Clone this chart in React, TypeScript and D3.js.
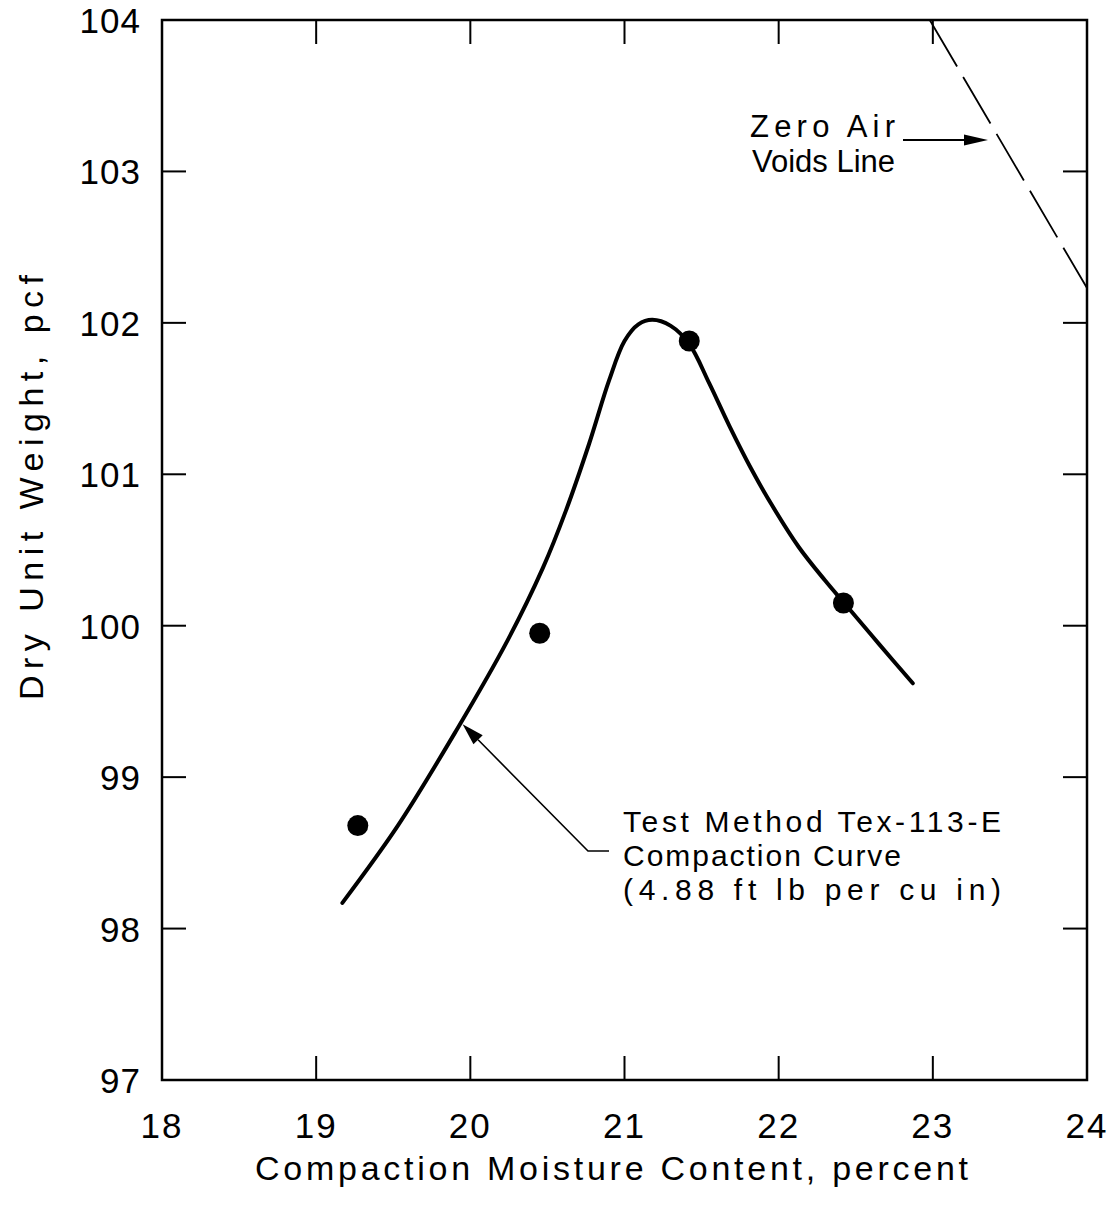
import React from "react";
import * as d3 from "d3";

const xTicks = [18, 19, 20, 21, 22, 23, 24];
const yTicks = [97, 98, 99, 100, 101, 102, 103, 104];
const xTickLabels = ["18", "19", "20", "21", "22", "23", "24"];
const yTickLabels = ["97", "98", "99", "100", "101", "102", "103", "104"];

// Measured test points (moisture %, dry unit weight pcf)
const pointsX = [19.27, 20.45, 21.42, 22.42];
const pointsY = [98.68, 99.95, 101.88, 100.15];

// Hand-drawn compaction curve
const curveX = [19.17, 19.53, 19.91, 20.24, 20.47, 20.62, 20.77, 20.9, 21.0, 21.09, 21.18, 21.3, 21.42, 21.55, 21.68, 21.82, 21.96, 22.13, 22.3, 22.45, 22.65, 22.87];
const curveY = [98.17, 98.68, 99.31, 99.9, 100.38, 100.76, 101.2, 101.62, 101.88, 101.99, 102.02, 101.98, 101.86, 101.6, 101.32, 101.04, 100.79, 100.52, 100.3, 100.12, 99.88, 99.62];

// Zero air voids line
const zavX = [22.98, 24.0];
const zavY = [104.0, 102.23];

const FONT = "'Liberation Sans', Arial, sans-serif";

export default function App() {
  const W = 1118;
  const H = 1213;
  const left = 162, right = 1087, top = 20, bottom = 1080;
  const x = d3.scaleLinear().domain([18, 24]).range([left, right]);
  const y = d3.scaleLinear().domain([97, 104]).range([bottom, top]);

  const curveData = curveX.map((v, i) => [v, curveY[i]] as [number, number]);
  const line = d3
    .line<[number, number]>()
    .x((d) => x(d[0]))
    .y((d) => y(d[1]))
    .curve(d3.curveCatmullRom.alpha(0.5));
  const zavData = zavX.map((v, i) => [v, zavY[i]] as [number, number]);
  const straight = d3.line<[number, number]>().x((d) => x(d[0])).y((d) => y(d[1]));

  const tickLen = 24;

  // leader for compaction curve annotation
  const tipX = x(19.95), tipY = y(99.35);
  const elbowX = 588, elbowY = 851;
  const ang = Math.atan2(tipY - elbowY, tipX - elbowX);
  const ah = 22, aw = 6.5;
  const baseX = tipX - ah * Math.cos(ang), baseY = tipY - ah * Math.sin(ang);
  const head1 = `${tipX},${tipY} ${baseX + aw * Math.sin(ang)},${baseY - aw * Math.cos(ang)} ${baseX - aw * Math.sin(ang)},${baseY + aw * Math.cos(ang)}`;

  // zav arrow
  const zArrowY = 140;
  const zStart = 903, zTip = 988;
  const head2 = `${zTip},${zArrowY} ${zTip - 24},${zArrowY - 5.5} ${zTip - 24},${zArrowY + 5.5}`;

  return (
    <svg width={W} height={H} style={{ display: "block", position: "absolute", left: 0, top: 0 }} fontFamily={FONT}>
      <rect x={0} y={0} width={W} height={H} fill="#fff" />
      {/* frame */}
      <rect x={left} y={top} width={right - left} height={bottom - top} fill="none" stroke="#000" strokeWidth={2.5} />
      {/* ticks */}
      {xTicks.map((t, i) =>
        i > 0 && i < xTicks.length - 1 ? (
          <g key={"xt" + t}>
            <line x1={x(t)} x2={x(t)} y1={bottom} y2={bottom - tickLen} stroke="#000" strokeWidth={2} />
            <line x1={x(t)} x2={x(t)} y1={top} y2={top + tickLen} stroke="#000" strokeWidth={2} />
          </g>
        ) : null
      )}
      {yTicks.map((t, i) =>
        i > 0 && i < yTicks.length - 1 ? (
          <g key={"yt" + t}>
            <line x1={left} x2={left + tickLen} y1={y(t)} y2={y(t)} stroke="#000" strokeWidth={2} />
            <line x1={right} x2={right - tickLen} y1={y(t)} y2={y(t)} stroke="#000" strokeWidth={2} />
          </g>
        ) : null
      )}
      {/* tick labels */}
      {xTicks.map((t, i) => (
        <text key={"xl" + t} x={x(t)} y={1138} textAnchor="middle" fontSize={35} letterSpacing={2}>
          {xTickLabels[i]}
        </text>
      ))}
      {yTicks.map((t, i) => (
        <text key={"yl" + t} x={141} y={y(t) + 13} textAnchor="end" fontSize={35} letterSpacing={1}>
          {yTickLabels[i]}
        </text>
      ))}
      {/* axis titles */}
      <text x={255} y={1180} fontSize={34} textLength={713} lengthAdjust="spacing">
        Compaction Moisture Content, percent
      </text>
      <text transform={`translate(43, 700) rotate(-90)`} x={0} y={0} fontSize={34} textLength={425} lengthAdjust="spacing">
        Dry Unit Weight, pcf
      </text>

      {/* zero air voids line */}
      <path d={straight(zavData) || ""} fill="none" stroke="#000" strokeWidth={1.8} strokeDasharray="54 12" />
      {/* compaction curve */}
      <path d={line(curveData) || ""} fill="none" stroke="#000" strokeWidth={4} strokeLinecap="round" strokeLinejoin="round" />
      {/* points */}
      {pointsX.map((v, i) => (
        <circle key={"p" + i} cx={x(v)} cy={y(pointsY[i])} r={10.5} fill="#000" />
      ))}

      {/* annotations */}
      <text x={750} y={137} fontSize={31} textLength={145} lengthAdjust="spacing">Zero Air</text>
      <text x={752} y={172} fontSize={31} textLength={143} lengthAdjust="spacing">Voids Line</text>
      <line x1={zStart} x2={zTip - 12} y1={zArrowY} y2={zArrowY} stroke="#000" strokeWidth={2} />
      <polygon points={head2} fill="#000" />

      <polyline
        points={`${elbowX + 21},${elbowY} ${elbowX},${elbowY} ${baseX},${baseY}`}
        fill="none"
        stroke="#000"
        strokeWidth={1.6}
      />
      <polygon points={head1} fill="#000" />
      <text x={623} y={832} fontSize={30} textLength={378} lengthAdjust="spacing">Test Method Tex-113-E</text>
      <text x={623} y={866} fontSize={30} textLength={278} lengthAdjust="spacing">Compaction Curve</text>
      <text x={623} y={900} fontSize={30} textLength={378} lengthAdjust="spacing">(4.88 ft lb per cu in)</text>
    </svg>
  );
}
